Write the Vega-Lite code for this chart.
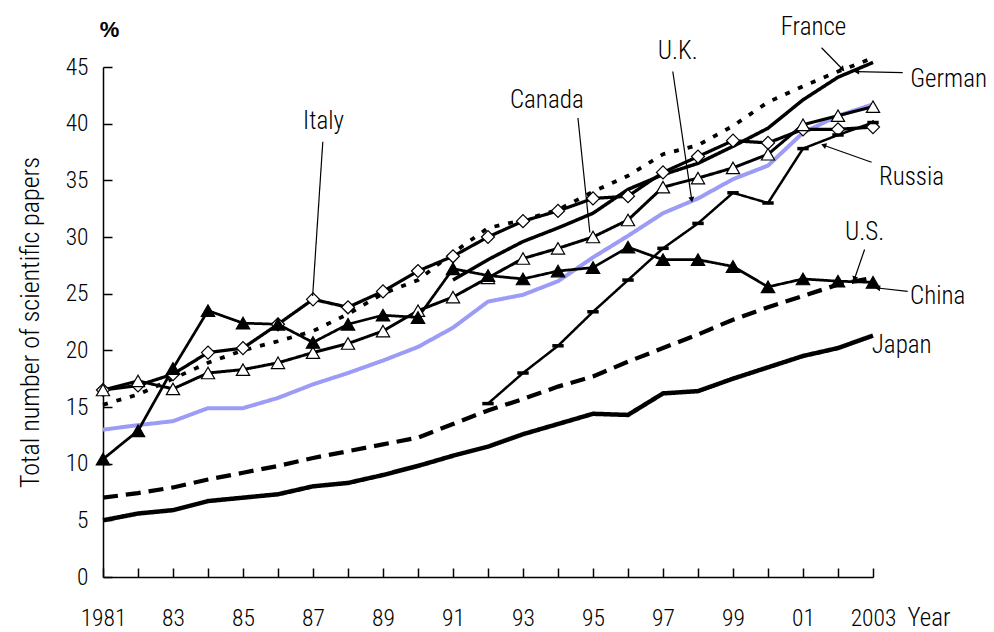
{
  "$schema": "https://vega.github.io/schema/vega-lite/v6.json",
  "width": 770,
  "height": 510,
  "autosize": "none",
  "padding": {"left": 103, "top": 67, "right": 121, "bottom": 55},
  "background": "white",
  "config": {
    "view": {"stroke": null},
    "font": "Roboto Condensed, DejaVu Sans Condensed, Liberation Sans Narrow, sans-serif",
    "axis": {
      "domainColor": "black", "domainWidth": 1.5, "tickColor": "black", "tickWidth": 1.5,
      "grid": false, "labelColor": "black", "labelFontSize": 23.5, "labelFontWeight": 300,
      "labelFont": "Roboto Condensed, DejaVu Sans Condensed, Liberation Sans Narrow, sans-serif",
      "titleFont": "Roboto Condensed, DejaVu Sans Condensed, Liberation Sans Narrow, sans-serif",
      "titleColor": "black", "titleFontWeight": 300, "labelFlush": false, "labelOverlap": false
    }
  },
  "datasets": {
    "series": [
      {"c":"Japan","year":1981,"v":5.0},{"c":"Japan","year":1982,"v":5.6},{"c":"Japan","year":1983,"v":5.9},{"c":"Japan","year":1984,"v":6.7},{"c":"Japan","year":1985,"v":7.0},{"c":"Japan","year":1986,"v":7.3},{"c":"Japan","year":1987,"v":8.0},{"c":"Japan","year":1988,"v":8.3},{"c":"Japan","year":1989,"v":9.0},{"c":"Japan","year":1990,"v":9.8},{"c":"Japan","year":1991,"v":10.7},{"c":"Japan","year":1992,"v":11.5},{"c":"Japan","year":1993,"v":12.6},{"c":"Japan","year":1994,"v":13.5},{"c":"Japan","year":1995,"v":14.4},{"c":"Japan","year":1996,"v":14.3},{"c":"Japan","year":1997,"v":16.2},{"c":"Japan","year":1998,"v":16.4},{"c":"Japan","year":1999,"v":17.5},{"c":"Japan","year":2000,"v":18.5},{"c":"Japan","year":2001,"v":19.5},{"c":"Japan","year":2002,"v":20.2},{"c":"Japan","year":2003,"v":21.3},
      {"c":"U.S.","year":1981,"v":7.0},{"c":"U.S.","year":1982,"v":7.4},{"c":"U.S.","year":1983,"v":7.9},{"c":"U.S.","year":1984,"v":8.6},{"c":"U.S.","year":1985,"v":9.2},{"c":"U.S.","year":1986,"v":9.8},{"c":"U.S.","year":1987,"v":10.5},{"c":"U.S.","year":1988,"v":11.1},{"c":"U.S.","year":1989,"v":11.7},{"c":"U.S.","year":1990,"v":12.3},{"c":"U.S.","year":1991,"v":13.5},{"c":"U.S.","year":1992,"v":14.7},{"c":"U.S.","year":1993,"v":15.7},{"c":"U.S.","year":1994,"v":16.8},{"c":"U.S.","year":1995,"v":17.7},{"c":"U.S.","year":1996,"v":19.0},{"c":"U.S.","year":1997,"v":20.2},{"c":"U.S.","year":1998,"v":21.4},{"c":"U.S.","year":1999,"v":22.7},{"c":"U.S.","year":2000,"v":23.8},{"c":"U.S.","year":2001,"v":24.8},{"c":"U.S.","year":2002,"v":25.8},{"c":"U.S.","year":2003,"v":26.4},
      {"c":"U.K.","year":1981,"v":13.0},{"c":"U.K.","year":1982,"v":13.4},{"c":"U.K.","year":1983,"v":13.75},{"c":"U.K.","year":1984,"v":14.9},{"c":"U.K.","year":1985,"v":14.9},{"c":"U.K.","year":1986,"v":15.8},{"c":"U.K.","year":1987,"v":17.0},{"c":"U.K.","year":1988,"v":18.0},{"c":"U.K.","year":1989,"v":19.1},{"c":"U.K.","year":1990,"v":20.3},{"c":"U.K.","year":1991,"v":22.0},{"c":"U.K.","year":1992,"v":24.3},{"c":"U.K.","year":1993,"v":24.9},{"c":"U.K.","year":1994,"v":26.1},{"c":"U.K.","year":1995,"v":28.2},{"c":"U.K.","year":1996,"v":30.1},{"c":"U.K.","year":1997,"v":32.1},{"c":"U.K.","year":1998,"v":33.4},{"c":"U.K.","year":1999,"v":35.1},{"c":"U.K.","year":2000,"v":36.3},{"c":"U.K.","year":2001,"v":39.2},{"c":"U.K.","year":2002,"v":40.7},{"c":"U.K.","year":2003,"v":41.7},
      {"c":"France","year":1981,"v":15.2},{"c":"France","year":1982,"v":16.1},{"c":"France","year":1983,"v":17.5},{"c":"France","year":1984,"v":18.9},{"c":"France","year":1985,"v":20.0},{"c":"France","year":1986,"v":20.8},{"c":"France","year":1987,"v":21.7},{"c":"France","year":1988,"v":23.2},{"c":"France","year":1989,"v":25.0},{"c":"France","year":1990,"v":26.2},{"c":"France","year":1991,"v":28.6},{"c":"France","year":1992,"v":30.8},{"c":"France","year":1993,"v":31.5},{"c":"France","year":1994,"v":32.4},{"c":"France","year":1995,"v":34.0},{"c":"France","year":1996,"v":35.4},{"c":"France","year":1997,"v":37.3},{"c":"France","year":1998,"v":38.1},{"c":"France","year":1999,"v":39.8},{"c":"France","year":2000,"v":41.9},{"c":"France","year":2001,"v":43.3},{"c":"France","year":2002,"v":44.6},{"c":"France","year":2003,"v":45.8},
      {"c":"Germany","year":1991,"v":26.2},{"c":"Germany","year":1992,"v":28.0},{"c":"Germany","year":1993,"v":29.6},{"c":"Germany","year":1994,"v":30.8},{"c":"Germany","year":1995,"v":32.1},{"c":"Germany","year":1996,"v":34.2},{"c":"Germany","year":1997,"v":35.5},{"c":"Germany","year":1998,"v":36.5},{"c":"Germany","year":1999,"v":38.0},{"c":"Germany","year":2000,"v":39.6},{"c":"Germany","year":2001,"v":42.1},{"c":"Germany","year":2002,"v":44.1},{"c":"Germany","year":2003,"v":45.4},
      {"c":"Italy","year":1981,"v":16.5},{"c":"Italy","year":1982,"v":16.9},{"c":"Italy","year":1983,"v":17.9},{"c":"Italy","year":1984,"v":19.8},{"c":"Italy","year":1985,"v":20.2},{"c":"Italy","year":1986,"v":22.3},{"c":"Italy","year":1987,"v":24.5},{"c":"Italy","year":1988,"v":23.8},{"c":"Italy","year":1989,"v":25.2},{"c":"Italy","year":1990,"v":27.0},{"c":"Italy","year":1991,"v":28.3},{"c":"Italy","year":1992,"v":30.0},{"c":"Italy","year":1993,"v":31.4},{"c":"Italy","year":1994,"v":32.3},{"c":"Italy","year":1995,"v":33.4},{"c":"Italy","year":1996,"v":33.6},{"c":"Italy","year":1997,"v":35.7},{"c":"Italy","year":1998,"v":37.1},{"c":"Italy","year":1999,"v":38.5},{"c":"Italy","year":2000,"v":38.3},{"c":"Italy","year":2001,"v":39.5},{"c":"Italy","year":2002,"v":39.5},{"c":"Italy","year":2003,"v":39.7},
      {"c":"Canada","year":1981,"v":16.5},{"c":"Canada","year":1982,"v":17.3},{"c":"Canada","year":1983,"v":16.6},{"c":"Canada","year":1984,"v":18.0},{"c":"Canada","year":1985,"v":18.3},{"c":"Canada","year":1986,"v":18.9},{"c":"Canada","year":1987,"v":19.8},{"c":"Canada","year":1988,"v":20.6},{"c":"Canada","year":1989,"v":21.7},{"c":"Canada","year":1990,"v":23.5},{"c":"Canada","year":1991,"v":24.7},{"c":"Canada","year":1992,"v":26.4},{"c":"Canada","year":1993,"v":28.1},{"c":"Canada","year":1994,"v":29.0},{"c":"Canada","year":1995,"v":30.0},{"c":"Canada","year":1996,"v":31.5},{"c":"Canada","year":1997,"v":34.4},{"c":"Canada","year":1998,"v":35.2},{"c":"Canada","year":1999,"v":36.1},{"c":"Canada","year":2000,"v":37.3},{"c":"Canada","year":2001,"v":39.9},{"c":"Canada","year":2002,"v":40.7},{"c":"Canada","year":2003,"v":41.5},
      {"c":"China","year":1981,"v":10.4},{"c":"China","year":1982,"v":12.9},{"c":"China","year":1983,"v":18.4},{"c":"China","year":1984,"v":23.5},{"c":"China","year":1985,"v":22.4},{"c":"China","year":1986,"v":22.3},{"c":"China","year":1987,"v":20.7},{"c":"China","year":1988,"v":22.3},{"c":"China","year":1989,"v":23.1},{"c":"China","year":1990,"v":22.9},{"c":"China","year":1991,"v":27.2},{"c":"China","year":1992,"v":26.6},{"c":"China","year":1993,"v":26.3},{"c":"China","year":1994,"v":27.0},{"c":"China","year":1995,"v":27.3},{"c":"China","year":1996,"v":29.1},{"c":"China","year":1997,"v":28.0},{"c":"China","year":1998,"v":28.0},{"c":"China","year":1999,"v":27.4},{"c":"China","year":2000,"v":25.6},{"c":"China","year":2001,"v":26.3},{"c":"China","year":2002,"v":26.1},{"c":"China","year":2003,"v":26.0},
      {"c":"Russia","year":1992,"v":15.3},{"c":"Russia","year":1993,"v":18.0},{"c":"Russia","year":1994,"v":20.4},{"c":"Russia","year":1995,"v":23.4},{"c":"Russia","year":1996,"v":26.2},{"c":"Russia","year":1997,"v":29.0},{"c":"Russia","year":1998,"v":31.2},{"c":"Russia","year":1999,"v":33.9},{"c":"Russia","year":2000,"v":33.0},{"c":"Russia","year":2001,"v":37.8},{"c":"Russia","year":2002,"v":39.0},{"c":"Russia","year":2003,"v":40.1}
    ],
    "labels": [
      {"t":"Italy","x":1987.3,"y":40.2},
      {"t":"Canada","x":1993.68,"y":42.1},
      {"t":"U.K.","x":1997.42,"y":46.4},
      {"t":"France","x":2001.3,"y":48.5},
      {"t":"German","x":2005.16,"y":43.9},
      {"t":"Russia","x":2004.1,"y":35.3},
      {"t":"U.S.","x":2002.76,"y":30.4},
      {"t":"China","x":2004.85,"y":24.8},
      {"t":"Japan","x":2003.82,"y":20.5},
      {"t":"Year","x":2004.6,"y":-3.6}
    ],
    "leaders": [
      {"t":"Italy","x1":1987.28,"y1":38.4,"x2":1986.99,"y2":24.8},
      {"t":"Canada","x1":1994.57,"y1":40.5,"x2":1994.91,"y2":30.4},
      {"t":"U.K.","x1":1997.28,"y1":44.6,"x2":1997.82,"y2":33.3},
      {"t":"France","x1":2001.53,"y1":46.7,"x2":2002.13,"y2":44.8},
      {"t":"German","x1":2003.85,"y1":44.5,"x2":2002.53,"y2":44.6},
      {"t":"Russia","x1":2002.96,"y1":36.6,"x2":2001.59,"y2":38.1},
      {"t":"U.S.","x1":2002.76,"y1":28.9,"x2":2002.47,"y2":26.3},
      {"t":"China","x1":2003.99,"y1":25.2,"x2":2003.13,"y2":25.5}
    ],
    "pct": [{"t":"%","x":1981.19,"y":48.3}]
  },
  "layer": [
    {
      "data": {"name": "series"},
      "mark": {"type": "line"},
      "encoding": {
        "x": {"field": "year", "type": "quantitative",
              "scale": {"domain": [1981, 2003], "nice": false, "zero": false},
              "axis": {"orient": "bottom", "title": null, "ticks": false, "values": [1981,1982,1983,1984,1985,1986,1987,1988,1989,1990,1991,1992,1993,1994,1995,1996,1997,1998,1999,2000,2001,2002,2003],
                       "format": "d", "labelPadding": 29,
                       "labelExpr": "datum.value % 2 == 1 ? ((datum.value == 1981 || datum.value == 2003) ? datum.label : substring(datum.label, 2, 4)) : ''"}},
        "y": {"field": "v", "type": "quantitative",
              "scale": {"domain": [0, 45], "nice": false},
              "axis": {"orient": "left", "title": "Total number of scientific papers", "titleFontSize": 26, "titlePadding": 22,
                       "ticks": false,
                       "values": [0,5,10,15,20,25,30,35,40,45], "labelPadding": 15}},
        "color": {"field": "c", "type": "nominal", "legend": null,
                  "scale": {"domain": ["Japan","U.S.","U.K.","France","Germany","Italy","Canada","China","Russia"],
                            "range": ["black","black","#9c9cf6","black","black","black","black","black","black"]}},
        "strokeDash": {"field": "c", "type": "nominal", "legend": null,
                  "scale": {"domain": ["Japan","U.S.","U.K.","France","Germany","Italy","Canada","China","Russia"],
                            "range": [[1,0],[15,8],[1,0],[5,9],[1,0],[1,0],[1,0],[1,0],[1,0]]}},
        "strokeWidth": {"field": "c", "type": "nominal", "legend": null,
                  "scale": {"domain": ["Japan","U.S.","U.K.","France","Germany","Italy","Canada","China","Russia"],
                            "range": [4.5,2.5,2.5,3,1,1,1,1,1]}}
      }
    },
    {
      "data": {"name": "series"},
      "transform": [{"filter": "datum.c == 'Italy' || datum.c == 'Canada' || datum.c == 'China'"}],
      "mark": {"type": "point", "filled": false, "stroke": "black", "strokeWidth": 1.2, "opacity": 1},
      "encoding": {
        "x": {"field": "year", "type": "quantitative",
              "axis": {"orient": "top", "offset": -510, "labels": false, "domain": false, "title": null,
                       "ticks": true, "tickSize": 9,
                       "values": [1981,1982,1983,1984,1985,1986,1987,1988,1989,1990,1991,1992,1993,1994,1995,1996,1997,1998,1999,2000,2001,2002,2003]}},
        "y": {"field": "v", "type": "quantitative",
              "axis": {"orient": "right", "offset": -770, "labels": false, "domain": false, "title": null,
                       "ticks": true, "tickSize": 9, "values": [0,5,10,15,20,25,30,35,40,45]}},
        "shape": {"field": "c", "type": "nominal", "legend": null,
                  "scale": {"domain": ["Italy","Canada","China"], "range": ["diamond","triangle-up","triangle-up"]}},
        "fill": {"field": "c", "type": "nominal", "legend": null,
                  "scale": {"domain": ["Italy","Canada","China"], "range": ["white","white","black"]}},
        "size": {"field": "c", "type": "nominal", "legend": null,
                  "scale": {"domain": ["Italy","Canada","China"], "range": [170, 180, 180]}}
      }
    },
    {
      "data": {"name": "series"},
      "transform": [{"filter": "datum.c == 'Russia'"}],
      "mark": {"type": "point", "shape": "stroke", "stroke": "black", "strokeWidth": 3.5, "size": 130, "opacity": 1},
      "encoding": {
        "x": {"field": "year", "type": "quantitative", "axis": null},
        "y": {"field": "v", "type": "quantitative", "axis": null}
      }
    },
    {
      "data": {"name": "leaders"},
      "mark": {"type": "rule", "color": "black", "strokeWidth": 1.2},
      "encoding": {
        "x": {"field": "x1", "type": "quantitative", "axis": null},
        "y": {"field": "y1", "type": "quantitative", "axis": null},
        "x2": {"field": "x2"},
        "y2": {"field": "y2"}
      }
    },
    {
      "data": {"name": "leaders"},
      "transform": [{"filter": "datum.t == 'U.K.'"}],
      "mark": {"type": "point", "shape": "triangle-up", "filled": true, "color": "black", "size": 36, "angle": 171.6, "opacity": 1},
      "encoding": {"x": {"field": "x2", "type": "quantitative", "axis": null}, "y": {"field": "y2", "type": "quantitative", "axis": null}}
    },
    {
      "data": {"name": "leaders"},
      "transform": [{"filter": "datum.t == 'France'"}],
      "mark": {"type": "point", "shape": "triangle-up", "filled": true, "color": "black", "size": 36, "angle": 136.3, "opacity": 1},
      "encoding": {"x": {"field": "x2", "type": "quantitative", "axis": null}, "y": {"field": "y2", "type": "quantitative", "axis": null}}
    },
    {
      "data": {"name": "leaders"},
      "transform": [{"filter": "datum.t == 'German'"}],
      "mark": {"type": "point", "shape": "triangle-up", "filled": true, "color": "black", "size": 36, "angle": 271, "opacity": 1},
      "encoding": {"x": {"field": "x2", "type": "quantitative", "axis": null}, "y": {"field": "y2", "type": "quantitative", "axis": null}}
    },
    {
      "data": {"name": "leaders"},
      "transform": [{"filter": "datum.t == 'Russia'"}],
      "mark": {"type": "point", "shape": "triangle-up", "filled": true, "color": "black", "size": 36, "angle": 289.5, "opacity": 1},
      "encoding": {"x": {"field": "x2", "type": "quantitative", "axis": null}, "y": {"field": "y2", "type": "quantitative", "axis": null}}
    },
    {
      "data": {"name": "leaders"},
      "transform": [{"filter": "datum.t == 'U.S.'"}],
      "mark": {"type": "point", "shape": "triangle-up", "filled": true, "color": "black", "size": 36, "angle": 198.4, "opacity": 1},
      "encoding": {"x": {"field": "x2", "type": "quantitative", "axis": null}, "y": {"field": "y2", "type": "quantitative", "axis": null}}
    },
    {
      "data": {"name": "leaders"},
      "transform": [{"filter": "datum.t == 'China'"}],
      "mark": {"type": "point", "shape": "triangle-up", "filled": true, "color": "black", "size": 36, "angle": 275.7, "opacity": 1},
      "encoding": {"x": {"field": "x2", "type": "quantitative", "axis": null}, "y": {"field": "y2", "type": "quantitative", "axis": null}}
    },
    {
      "data": {"name": "labels"},
      "mark": {"type": "text", "fontSize": 25, "fontWeight": 300, "color": "black", "align": "center", "baseline": "middle"},
      "encoding": {
        "x": {"field": "x", "type": "quantitative", "axis": null},
        "y": {"field": "y", "type": "quantitative", "axis": null},
        "text": {"field": "t"}
      }
    },
    {
      "data": {"name": "pct"},
      "mark": {"type": "text", "fontSize": 22, "fontWeight": "bold", "color": "black", "align": "center", "baseline": "middle", "font": "Liberation Sans, Arial, sans-serif"},
      "encoding": {
        "x": {"field": "x", "type": "quantitative", "axis": null},
        "y": {"field": "y", "type": "quantitative", "axis": null},
        "text": {"field": "t"}
      }
    }
  ]
}
